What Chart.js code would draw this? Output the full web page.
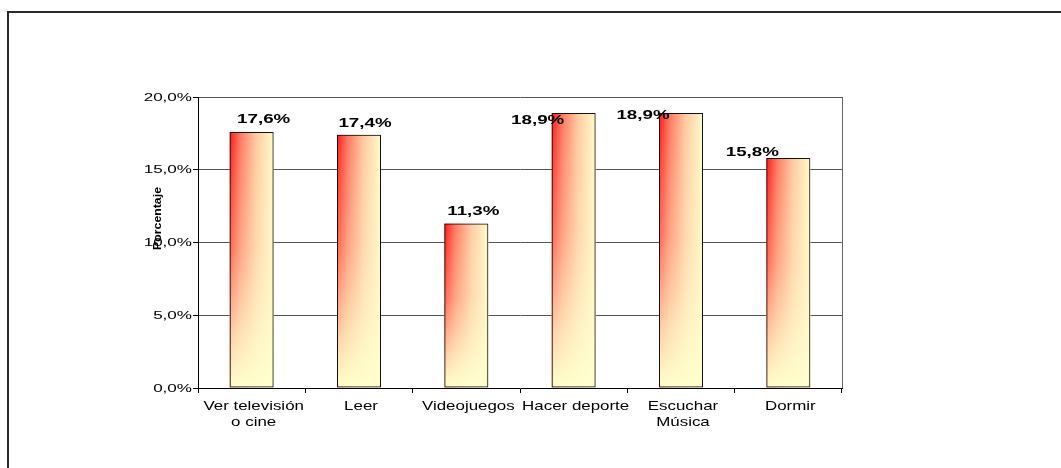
<!DOCTYPE html>
<html>
<head>
<meta charset="utf-8">
<style>
  html, body { margin: 0; padding: 0; background: #fff; }
  #wrap { width: 1061px; height: 468px; }
</style>
<script src="https://cdn.jsdelivr.net/npm/chart.js@4.4.0/dist/chart.umd.min.js"></script>
</head>
<body>
<div id="wrap"><canvas id="chart" width="1061" height="468"></canvas></div>
<script>
const categories = [["Ver televisión", "o cine"], ["Leer"], ["Videojuegos"], ["Hacer deporte"], ["Escuchar", "Música"], ["Dormir"]];
const percentages = [17.6, 17.4, 11.3, 18.9, 18.9, 15.8];
const valueLabels = ["17,6%", "17,4%", "11,3%", "18,9%", "18,9%", "15,8%"];
const yTicks = [0, 5, 10, 15, 20];
const axisTitle = "Porcentaje";

// where each value label sits relative to the top of its bar (dx, baseline dy)
const labelNudge = [[12, -9], [6, -8], [7, -9], [-36, 11], [-38, 6], [-36, -2]];

const FONT = '"Liberation Sans", Arial, sans-serif';

// the old chart text is drawn wide, so stretch it horizontally
function wideText(c, text, x, y, sx, align) {
    c.save();
    c.translate(x, y);
    c.scale(sx, 1);
    c.textAlign = align;
    c.fillText(text, 0, 0);
    c.restore();
}

const excelLook = {
    id: "excelLook",
    beforeDraw(chart) {
        const c = chart.ctx;
        c.save();
        c.strokeStyle = "#2a2a2a";
        c.lineWidth = 2;
        c.beginPath();
        c.moveTo(8, chart.height);
        c.lineTo(8, 12);
        c.lineTo(chart.width, 12);
        c.stroke();
        c.restore();
    },
    beforeDatasetsDraw(chart) {
        const c = chart.ctx;
        const meta = chart.getDatasetMeta(0);
        meta.data.forEach((bar) => {
            const p = bar.getProps(["x", "y", "base", "width"], true);
            const left = p.x - p.width / 2;
            const h = p.base - p.y;

            const across = c.createLinearGradient(left, 0, left + p.width, 0);
            across.addColorStop(0, "#ff1a1a");
            across.addColorStop(0.25, "#ff7a62");
            across.addColorStop(0.6, "#ffc9a2");
            across.addColorStop(1, "#fffbca");
            c.fillStyle = across;
            c.fillRect(left, p.y, p.width, h);

            const down = c.createLinearGradient(0, p.y, 0, p.base);
            down.addColorStop(0, "rgba(255,255,204,0)");
            down.addColorStop(0.45, "rgba(255,245,200,0.35)");
            down.addColorStop(0.8, "rgba(255,252,204,0.8)");
            down.addColorStop(1, "rgba(255,255,204,1)");
            c.fillStyle = down;
            c.fillRect(left, p.y, p.width, h);
        });
    },
    afterDraw(chart) {
        const c = chart.ctx;
        const area = chart.chartArea;
        const xs = chart.scales.x;
        const ys = chart.scales.y;

        // right side of the plot frame
        c.save();
        c.strokeStyle = "#666";
        c.lineWidth = 1;
        c.beginPath();
        c.moveTo(Math.round(area.right) + 0.5, area.top);
        c.lineTo(Math.round(area.right) + 0.5, area.bottom);
        c.stroke();

        c.fillStyle = "#000";

        // y tick labels
        c.font = "11px " + FONT;
        c.textBaseline = "middle";
        ys.ticks.forEach((t) => {
            const label = t.value.toFixed(1).replace(".", ",") + "%";
            wideText(c, label, area.left - 6, ys.getPixelForValue(t.value) + 0.5, 1.55, "right");
        });

        // category labels
        c.font = "13px " + FONT;
        c.textBaseline = "alphabetic";
        categories.forEach((lines, i) => {
            const px = xs.getPixelForTick(i);
            lines.forEach((line, j) => {
                wideText(c, line, px + 2, area.bottom + 22 + j * 16, 1.3, "center");
            });
        });

        // value labels
        c.font = "bold 12.5px " + FONT;
        chart.getDatasetMeta(0).data.forEach((bar, i) => {
            const n = labelNudge[i];
            wideText(c, valueLabels[i], bar.x + n[0], bar.y + n[1], 1.5, "center");
        });

        // axis title
        c.font = "bold 11px " + FONT;
        c.textBaseline = "middle";
        c.translate(area.left - 40, (area.top + area.bottom) / 2 - 24);
        c.rotate(-Math.PI / 2);
        c.scale(1.12, 1);
        c.textAlign = "center";
        c.fillText(axisTitle, 0, 0);
        c.restore();
    }
};

new Chart(document.getElementById("chart"), {
    type: "bar",
    data: {
        labels: categories,
        datasets: [{
            data: percentages,
            backgroundColor: "rgba(0,0,0,0)",
            borderColor: "#111",
            borderWidth: 1,
            borderSkipped: false,
            barPercentage: 0.41,
            categoryPercentage: 1
        }]
    },
    options: {
        responsive: false,
        animation: false,
        layout: { padding: { left: 0, right: 219, top: 97, bottom: 0 } },
        plugins: {
            legend: { display: false },
            tooltip: { enabled: false }
        },
        scales: {
            x: {
                offset: true,
                grid: { drawOnChartArea: false, offset: true, tickLength: 5, color: "#000" },
                border: { color: "#000", width: 1 },
                ticks: { color: "rgba(0,0,0,0)", font: { size: 13 }, maxRotation: 0 },
                afterFit: (s) => { s.height = 80; }
            },
            y: {
                min: 0,
                max: 20,
                afterBuildTicks: (s) => { s.ticks = yTicks.map((v) => ({ value: v })); },
                grid: {
                    color: (ctx) => (ctx.tick && ctx.tick.value === 0 ? "rgba(0,0,0,0)" : "#555"),
                    tickColor: "#000",
                    tickLength: 5
                },
                border: { color: "#000", width: 1 },
                ticks: { color: "rgba(0,0,0,0)" },
                afterFit: (s) => { s.width = 198; }
            }
        }
    },
    plugins: [excelLook]
});
</script>
</body>
</html>
